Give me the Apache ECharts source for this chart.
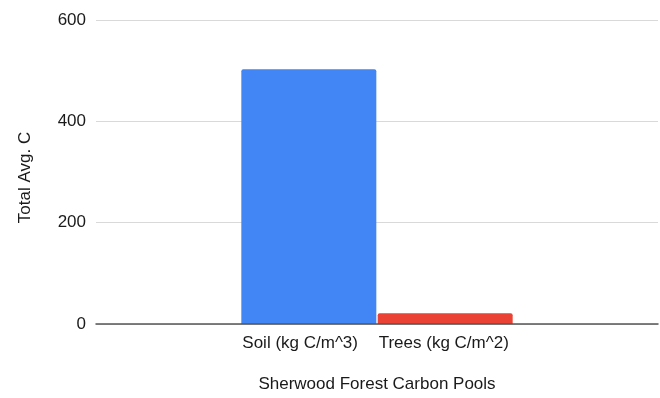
<!DOCTYPE html>
<html>
<head>
<meta charset="utf-8">
<script src="https://cdn.jsdelivr.net/npm/echarts@6/dist/echarts.min.js"></script>
<style>
  html, body { margin: 0; padding: 0; background: #fff; }
  #chart { width: 660px; height: 398px; }
</style>
</head>
<body>
<div id="chart"></div>
<script>
// Carbon pools and their average totals
const pools = ['Soil (kg C/m^3)', 'Trees (kg C/m^2)'];
const totals = [503, 21];
const poolColors = ['#4285f4', '#ea4335'];
const yTicks = [0, 200, 400, 600];

const FONT = 'Liberation Sans, Arial, sans-serif';
const TEXT = '#1a1a1a';

const chart = echarts.init(document.getElementById('chart'), null, { renderer: 'canvas' });

// One bar per pool, side by side in a single group; each bar carries its own caption below the baseline
const series = pools.map((name, i) => ({
  name: name,
  type: 'bar',
  data: [totals[i]],
  barWidth: 135,
  barGap: '1%',
  itemStyle: { color: poolColors[i], borderRadius: [2, 2, 0, 0] },
  label: {
    show: true,
    position: [1, '100%'],
    align: 'left',
    verticalAlign: 'top',
    offset: [0, 11],
    formatter: name,
    color: TEXT,
    fontFamily: FONT,
    fontSize: 17
  },
  z: 3
}));

chart.setOption({
  animation: false,
  grid: { left: 96, right: 2, top: 20, bottom: 74, outerBoundsMode: 'none' },
  xAxis: {
    type: 'category',
    data: [''],
    name: 'Sherwood Forest Carbon Pools',
    nameLocation: 'middle',
    nameGap: 52,
    nameTextStyle: { color: TEXT, fontFamily: FONT, fontSize: 17 },
    axisTick: { show: false },
    axisLabel: { show: false },
    axisLine: { show: true, lineStyle: { color: '#555', width: 1.5 } },
    z: 5
  },
  yAxis: {
    type: 'value',
    min: yTicks[0],
    max: yTicks[yTicks.length - 1],
    interval: 200,
    name: 'Total Avg. C',
    nameLocation: 'middle',
    nameGap: 62,
    nameTextStyle: { color: TEXT, fontFamily: FONT, fontSize: 17, padding: [0, 11, 0, 0] },
    axisLine: { show: false },
    axisTick: { show: false },
    axisLabel: { color: TEXT, fontFamily: FONT, fontSize: 17, margin: 10 },
    splitLine: { lineStyle: { color: '#d9d9d9', width: 1 } }
  },
  series: series
});
</script>
</body>
</html>
